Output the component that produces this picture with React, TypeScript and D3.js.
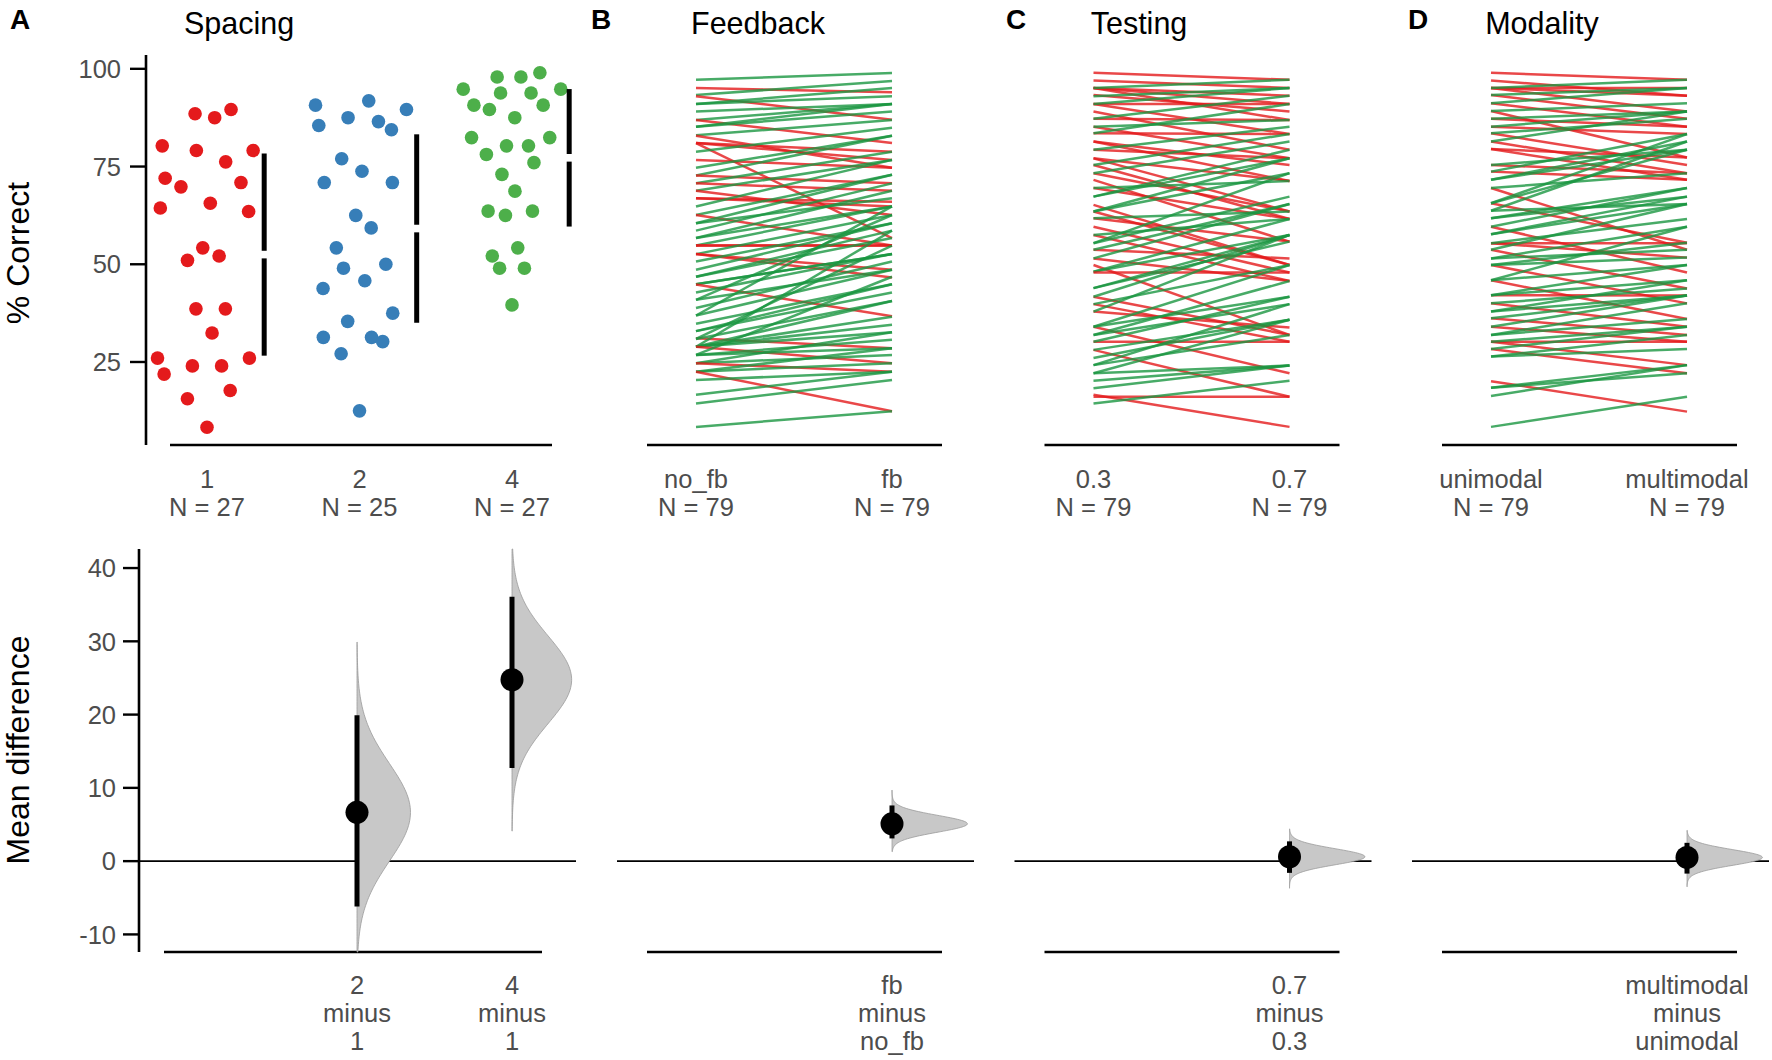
import React from "react";
import * as d3 from "d3";

const FONT = "'Liberation Sans', Arial, Helvetica, sans-serif";
const W = 1772;
const H = 1060;

// ---------- Panel A: Spacing (between-subject, % correct) ----------
const spacingGroups = ["1", "2", "4"];
const spacing1 = [88.5, 87.5, 89.6, 80.3, 79.1, 79.1, 76.2, 72.0, 69.8, 70.9, 64.4, 65.6, 63.5, 54.2, 51.0, 52.1, 38.6, 38.6, 32.4, 26.0, 26.0, 21.9, 24.0, 24.0, 17.7, 15.6, 8.3];
const spacing2 = [90.7, 91.8, 89.6, 85.5, 87.5, 86.5, 84.4, 77.0, 73.8, 70.9, 70.9, 62.5, 59.3, 54.2, 49.0, 50.0, 45.8, 43.8, 37.5, 35.4, 31.3, 31.3, 30.2, 27.1, 12.5];
const spacing4 = [94.8, 97.9, 97.9, 99.0, 94.8, 93.8, 93.8, 90.7, 89.6, 90.7, 87.5, 82.4, 82.4, 80.3, 80.3, 78.1, 76.0, 73.0, 68.7, 63.6, 62.5, 63.6, 54.2, 52.1, 49.0, 49.0, 39.6];
const spacingColors = ["#e41a1c", "#377eb8", "#4daf4a"];

// bootstrap CI and distribution range of mean differences
const spacingCiLow = [-6.2, 12.7];
const spacingCiHigh = [19.9, 36.1];
const spacingBootLow = [-12.4, 4.1];
const spacingBootHigh = [29.9, 42.6];

// ---------- Paired panels ----------
const pairedTitles = ["Feedback", "Testing", "Modality"];
const pairedLetters = ["B", "C", "D"];
const pairedConditions = [["no_fb", "fb"], ["0.3", "0.7"], ["unimodal", "multimodal"]];

const feedbackNoFb = [97.2, 95.1, 93.3, 93.0, 91.0, 91.0, 89.1, 86.9, 86.9, 85.2, 85.2, 83.0, 82.9, 81.0, 81.0, 81.0, 78.8, 76.7, 74.7, 72.7, 72.7, 70.7, 70.7, 68.8, 68.8, 66.9, 66.9, 64.8, 62.6, 62.6, 60.5, 60.5, 58.6, 56.7, 56.7, 54.8, 54.8, 54.8, 52.6, 52.6, 52.6, 50.7, 48.6, 46.8, 46.8, 44.9, 44.9, 44.8, 42.8, 40.9, 40.9, 38.8, 36.9, 36.9, 34.8, 32.9, 32.9, 31.1, 30.9, 30.9, 28.9, 28.9, 28.9, 28.9, 28.9, 28.9, 26.8, 26.8, 26.8, 24.7, 24.7, 24.7, 22.5, 22.5, 22.5, 20.4, 16.6, 14.4, 8.4];
const feedbackFb = [98.9, 94.0, 96.9, 87.0, 95.1, 93.0, 91.0, 91.0, 81.0, 91.0, 89.1, 86.9, 74.7, 78.8, 76.7, 56.7, 84.9, 74.7, 82.9, 82.9, 70.7, 78.8, 68.8, 76.7, 62.6, 66.0, 64.8, 76.7, 72.9, 54.8, 72.9, 66.9, 70.7, 68.8, 64.8, 64.8, 54.8, 54.8, 62.6, 46.6, 48.6, 60.5, 60.5, 58.6, 56.7, 52.6, 52.6, 36.7, 52.6, 48.6, 62.6, 50.7, 48.6, 64.8, 44.9, 44.9, 42.8, 28.5, 40.6, 54.8, 40.6, 36.6, 34.5, 32.6, 58.6, 24.7, 30.7, 28.5, 46.8, 32.6, 26.8, 22.5, 28.5, 24.7, 12.4, 22.5, 22.5, 20.4, 12.4];

const testing03 = [99.0, 97.0, 95.1, 95.1, 95.1, 95.1, 93.3, 93.0, 91.0, 91.0, 91.0, 89.1, 87.2, 87.2, 85.2, 85.2, 83.5, 83.5, 81.4, 81.4, 79.3, 79.3, 77.1, 77.1, 75.4, 75.4, 73.3, 73.3, 71.6, 69.5, 69.5, 67.3, 67.3, 65.2, 63.5, 63.5, 63.5, 61.8, 61.8, 59.6, 57.5, 57.5, 55.4, 55.4, 53.7, 53.7, 51.5, 51.5, 49.8, 48.1, 48.1, 47.9, 43.9, 43.9, 41.7, 41.7, 39.8, 39.8, 37.9, 37.9, 34.0, 34.0, 34.0, 31.9, 31.9, 30.2, 30.2, 28.1, 28.1, 26.0, 24.2, 24.2, 22.1, 22.1, 20.2, 18.3, 16.6, 16.1, 14.4];
const testing07 = [97.2, 95.1, 93.1, 91.0, 86.9, 97.2, 89.1, 95.1, 91.0, 83.3, 95.1, 79.3, 86.9, 93.1, 77.1, 86.9, 83.3, 91.0, 75.4, 71.3, 77.1, 85.2, 71.3, 63.5, 61.6, 83.3, 63.5, 81.4, 55.8, 61.6, 71.3, 77.1, 79.3, 49.8, 49.8, 73.3, 77.1, 55.8, 63.5, 47.9, 45.7, 61.6, 73.3, 67.3, 51.5, 65.4, 45.7, 65.4, 31.9, 57.5, 61.6, 47.9, 57.5, 55.8, 31.9, 57.5, 30.2, 49.8, 33.8, 57.5, 22.1, 49.8, 41.7, 39.8, 45.7, 30.2, 41.7, 16.1, 35.8, 35.8, 39.8, 31.9, 35.8, 24.1, 24.1, 24.1, 8.4, 16.1, 20.2];

const modalityUni = [99.0, 97.0, 95.1, 95.1, 95.1, 95.1, 93.3, 93.3, 91.2, 91.2, 89.2, 89.2, 87.2, 87.2, 85.2, 85.2, 83.5, 83.5, 81.4, 81.4, 79.5, 79.5, 75.4, 75.4, 73.7, 73.7, 71.6, 71.6, 69.5, 69.5, 65.6, 65.6, 65.6, 63.7, 63.7, 61.8, 61.8, 59.6, 59.6, 57.7, 57.7, 55.4, 55.4, 55.4, 53.7, 53.7, 51.5, 51.5, 49.8, 49.8, 49.8, 45.9, 45.9, 45.9, 42.1, 42.1, 42.1, 40.0, 40.0, 37.9, 37.9, 36.2, 36.2, 34.0, 34.0, 31.9, 31.9, 30.2, 30.2, 30.2, 28.3, 28.3, 26.4, 26.4, 20.1, 18.4, 18.4, 16.3, 8.4];
const modalityMulti = [97.2, 93.1, 95.1, 89.1, 93.1, 97.2, 87.2, 95.1, 85.2, 95.1, 77.3, 91.2, 85.2, 89.1, 83.3, 89.1, 75.4, 87.2, 73.3, 89.1, 77.3, 71.6, 73.3, 79.3, 71.6, 83.3, 81.4, 79.3, 53.7, 73.3, 55.5, 83.3, 79.3, 81.4, 65.4, 69.5, 67.3, 47.9, 69.5, 67.3, 65.4, 55.4, 51.7, 61.6, 43.8, 65.4, 59.6, 53.7, 40.0, 51.7, 55.5, 36.0, 49.8, 59.6, 42.0, 49.8, 45.9, 34.0, 43.8, 45.9, 42.0, 31.9, 42.0, 30.2, 42.0, 36.0, 40.0, 30.2, 24.2, 34.0, 22.1, 34.0, 31.9, 28.3, 12.3, 24.2, 22.1, 24.2, 16.1];

const pairedLeft = [feedbackNoFb, testing03, modalityUni];
const pairedRight = [feedbackFb, testing07, modalityMulti];

// paired mean differences with bootstrap CI and distribution range
const pairedDiffMean = [5.1, 0.6, 0.5];
const pairedCiLow = [3.1, -1.6, -1.7];
const pairedCiHigh = [7.6, 2.7, 2.5];
const pairedBootLow = [1.3, -3.7, -3.5];
const pairedBootHigh = [9.7, 4.4, 4.2];

const topTicks = [25, 50, 75, 100];
const bottomTicks = [-10, 0, 10, 20, 30, 40];

const RED = "#e41a1c";
const GREEN = "#1a9641";
const TICK_COL = "#4d4d4d";

// ---------- helpers ----------
function vanDerCorput(i: number) {
  let x = 0;
  let f = 0.5;
  let k = i;
  while (k > 0) {
    x += f * (k % 2);
    k = Math.floor(k / 2);
    f /= 2;
  }
  return x;
}

function bwNrd0(x: number[]) {
  const n = x.length;
  const sd = d3.deviation(x) || 1;
  const s = x.slice().sort(d3.ascending);
  const iqr = (d3.quantileSorted(s, 0.75) as number) - (d3.quantileSorted(s, 0.25) as number);
  let lo = Math.min(sd, iqr / 1.34);
  if (!(lo > 0)) lo = sd || Math.abs(s[0]) || 1;
  return 0.9 * lo * Math.pow(n, -0.2);
}

// quasirandom offsets (vipor style, bandwidth adjust 0.5), scaled by relative density
function quasiOffsets(y: number[], adjust: number) {
  const n = y.length;
  const bw = bwNrd0(y) * adjust;
  const dens = (v: number) => d3.sum(y, (yj) => Math.exp(-0.5 * ((v - yj) / bw) ** 2));
  const lo = (d3.min(y) as number) - 3 * bw;
  const hi = (d3.max(y) as number) + 3 * bw;
  let maxD = 0;
  for (let i = 0; i < 1024; i++) maxD = Math.max(maxD, dens(lo + ((hi - lo) * i) / 1023));
  const order = d3.range(n).sort((a, b) => y[a] - y[b] || a - b);
  const rank = new Array(n);
  order.forEach((idx, r) => (rank[idx] = r + 1));
  return y.map((v, i) => (vanDerCorput(rank[i]) - 0.5) * 2 * (dens(v) / maxD));
}

function halfViolin(
  xc: number,
  y: d3.ScaleLinear<number, number>,
  mean: number,
  sd: number,
  lo: number,
  hi: number,
  maxW: number
) {
  const vs = d3.range(0, 121).map((i) => lo + ((hi - lo) * i) / 120);
  const area = d3
    .area<number>()
    .y((v) => y(v))
    .x0(() => xc)
    .x1((v) => xc + maxW * Math.exp(-0.5 * ((v - mean) / sd) ** 2))
    .curve(d3.curveBasis);
  return area(vs) || "";
}

const spacingData = [spacing1, spacing2, spacing4];

export default function App() {
  // ---- scales ----
  const allTop = [...spacing1, ...spacing2, ...spacing4, ...feedbackNoFb, ...feedbackFb, ...testing03, ...testing07, ...modalityUni, ...modalityMulti];
  const tMin = d3.min(allTop) as number;
  const tMax = d3.max(allTop) as number;
  const tPad = (tMax - tMin) * 0.05;
  const yTop = d3.scaleLinear().domain([tMin - tPad, tMax + tPad]).range([445, 55]);

  const bLo = Math.min(...spacingBootLow, ...pairedBootLow);
  const bHi = Math.max(...spacingBootHigh, ...pairedBootHigh);
  const yBot = d3.scaleLinear().domain([bLo, bHi]).range([952, 549]);

  const xA = d3.scalePoint<string>().domain(spacingGroups).range([207, 512]);
  const xAB = d3.scalePoint<string>().domain(spacingGroups).range([202, 512]);
  const stepA = xA.step();

  const means = spacingData.map((g) => d3.mean(g) as number);
  const sds = spacingData.map((g) => d3.deviation(g) as number);
  const offsets = spacingData.map((g) => quasiOffsets(g, 0.5));

  const spacingDiff = [means[1] - means[0], means[2] - means[0]];
  const spacingSd = spacingCiLow.map((l, i) => (spacingCiHigh[i] - l) / 3.92);
  const minSdA = Math.min(...spacingSd);

  const tickText = { fontSize: 25.5, fill: TICK_COL, fontFamily: FONT } as const;

  const panelX0 = [647, 1044.5, 1442];
  const titleX = [758, 1139, 1542];
  const letterX = [591, 1006, 1408];

  return (
    <svg
      width={W}
      height={H}
      viewBox={`0 0 ${W} ${H}`}
      style={{ position: "absolute", left: 0, top: 0, background: "#fff" }}
      fontFamily={FONT}
    >
      <rect x={0} y={0} width={W} height={H} fill="#fff" />

      {/* ======= Panel A top ======= */}
      <text x={10} y={29} fontSize={28} fontWeight="bold" fill="#000">A</text>
      <text x={239} y={34} fontSize={30.5} textAnchor="middle" fill="#000">Spacing</text>
      <text
        transform={`translate(29,253) rotate(-90)`}
        fontSize={32}
        textAnchor="middle"
        fill="#000"
      >
        % Correct
      </text>

      <line x1={146} x2={146} y1={yTop.range()[1]} y2={yTop.range()[0]} stroke="#000" strokeWidth={2.6} />
      {topTicks.map((t) => (
        <g key={"tt" + t}>
          <line x1={130} x2={146} y1={yTop(t)} y2={yTop(t)} stroke="#000" strokeWidth={2.4} />
          <text x={121} y={yTop(t)} dy="0.36em" textAnchor="end" {...tickText}>{t}</text>
        </g>
      ))}
      <line x1={170} x2={552} y1={445} y2={445} stroke="#000" strokeWidth={2.6} />

      {spacingData.map((g, gi) =>
        g.map((v, i) => (
          <circle
            key={`d${gi}-${i}`}
            cx={(xA(spacingGroups[gi]) as number) + offsets[gi][i] * 0.4 * stepA}
            cy={yTop(v)}
            r={6.8}
            fill={spacingColors[gi]}
          />
        ))
      )}
      {spacingData.map((g, gi) => {
        const x = (xA(spacingGroups[gi]) as number) + 0.375 * stepA;
        const ym = yTop(means[gi]);
        return (
          <g key={"eb" + gi}>
            <line x1={x} x2={x} y1={yTop(means[gi] + sds[gi])} y2={ym - 3.8} stroke="#000" strokeWidth={5} />
            <line x1={x} x2={x} y1={ym + 3.8} y2={yTop(means[gi] - sds[gi])} stroke="#000" strokeWidth={5} />
          </g>
        );
      })}
      {spacingGroups.map((g, gi) => (
        <text key={"xl" + g} x={xA(g)} y={488} textAnchor="middle" {...tickText}>
          <tspan x={xA(g)} dy={0}>{g}</tspan>
          <tspan x={xA(g)} dy={28}>{`N = ${spacingData[gi].length}`}</tspan>
        </text>
      ))}

      {/* ======= Panel A bottom ======= */}
      <text
        transform={`translate(29,750) rotate(-90)`}
        fontSize={32}
        textAnchor="middle"
        fill="#000"
      >
        Mean difference
      </text>
      <line x1={139} x2={139} y1={549} y2={952} stroke="#000" strokeWidth={2.6} />
      {bottomTicks.map((t) => (
        <g key={"bt" + t}>
          <line x1={123} x2={139} y1={yBot(t)} y2={yBot(t)} stroke="#000" strokeWidth={2.4} />
          <text x={116} y={yBot(t)} dy="0.36em" textAnchor="end" {...tickText}>{String(t)}</text>
        </g>
      ))}
      <line x1={139} x2={576} y1={yBot(0)} y2={yBot(0)} stroke="#000" strokeWidth={1.8} />
      <line x1={164} x2={542} y1={952} y2={952} stroke="#000" strokeWidth={2.6} />
      {[1, 2].map((gi, k) => {
        const xc = xAB(spacingGroups[gi]) as number;
        const maxW = 0.385 * xAB.step() * (minSdA / spacingSd[k]);
        return (
          <g key={"ea" + gi}>
            <path
              d={halfViolin(xc, yBot, spacingDiff[k], spacingSd[k], spacingBootLow[k], spacingBootHigh[k], maxW)}
              fill="#c8c8c8"
              stroke="#9a9a9a"
              strokeWidth={0.8}
            />
            <line x1={xc} x2={xc} y1={yBot(spacingCiLow[k])} y2={yBot(spacingCiHigh[k])} stroke="#000" strokeWidth={5} />
            <circle cx={xc} cy={yBot(spacingDiff[k])} r={11.5} fill="#000" />
            <text x={xc} y={994} textAnchor="middle" {...tickText}>
              <tspan x={xc} dy={0}>{spacingGroups[gi]}</tspan>
              <tspan x={xc} dy={28}>minus</tspan>
              <tspan x={xc} dy={28}>{spacingGroups[0]}</tspan>
            </text>
          </g>
        );
      })}

      {/* ======= Paired panels ======= */}
      {pairedTitles.map((title, pi) => {
        const x0 = panelX0[pi];
        const xP = d3.scalePoint<string>().domain(pairedConditions[pi]).range([x0 + 49, x0 + 245]);
        const [c0, c1] = pairedConditions[pi];
        const L = pairedLeft[pi];
        const R = pairedRight[pi];
        const sd = (pairedCiHigh[pi] - pairedCiLow[pi]) / 3.92;
        const xe = xP(c1) as number;
        return (
          <g key={"p" + pi}>
            <text x={letterX[pi]} y={29} fontSize={28} fontWeight="bold" fill="#000">{pairedLetters[pi]}</text>
            <text x={titleX[pi]} y={34} fontSize={30.5} textAnchor="middle" fill="#000">{title}</text>
            <line x1={x0} x2={x0 + 295} y1={445} y2={445} stroke="#000" strokeWidth={2.6} />
            {L.map((lv, i) => (
              <line
                key={"ln" + i}
                x1={xP(c0)}
                x2={xP(c1)}
                y1={yTop(lv)}
                y2={yTop(R[i])}
                stroke={R[i] > lv ? GREEN : RED}
                strokeOpacity={0.8}
                strokeWidth={2.5}
              />
            ))}
            {[c0, c1].map((c) => (
              <text key={"cl" + c} x={xP(c)} y={488} textAnchor="middle" {...tickText}>
                <tspan x={xP(c)} dy={0}>{c}</tspan>
                <tspan x={xP(c)} dy={28}>{`N = ${L.length}`}</tspan>
              </text>
            ))}

            <line x1={x0 - 30} x2={x0 + 327} y1={yBot(0)} y2={yBot(0)} stroke="#000" strokeWidth={1.8} />
            <line x1={x0} x2={x0 + 295} y1={952} y2={952} stroke="#000" strokeWidth={2.6} />
            <path
              d={halfViolin(xe, yBot, pairedDiffMean[pi], sd, pairedBootLow[pi], pairedBootHigh[pi], 0.385 * xP.step())}
              fill="#c8c8c8"
              stroke="#9a9a9a"
              strokeWidth={0.8}
            />
            <line x1={xe} x2={xe} y1={yBot(pairedCiLow[pi])} y2={yBot(pairedCiHigh[pi])} stroke="#000" strokeWidth={5} />
            <circle cx={xe} cy={yBot(pairedDiffMean[pi])} r={11.5} fill="#000" />
            <text x={xe} y={994} textAnchor="middle" {...tickText}>
              <tspan x={xe} dy={0}>{c1}</tspan>
              <tspan x={xe} dy={28}>minus</tspan>
              <tspan x={xe} dy={28}>{c0}</tspan>
            </text>
          </g>
        );
      })}
    </svg>
  );
}
